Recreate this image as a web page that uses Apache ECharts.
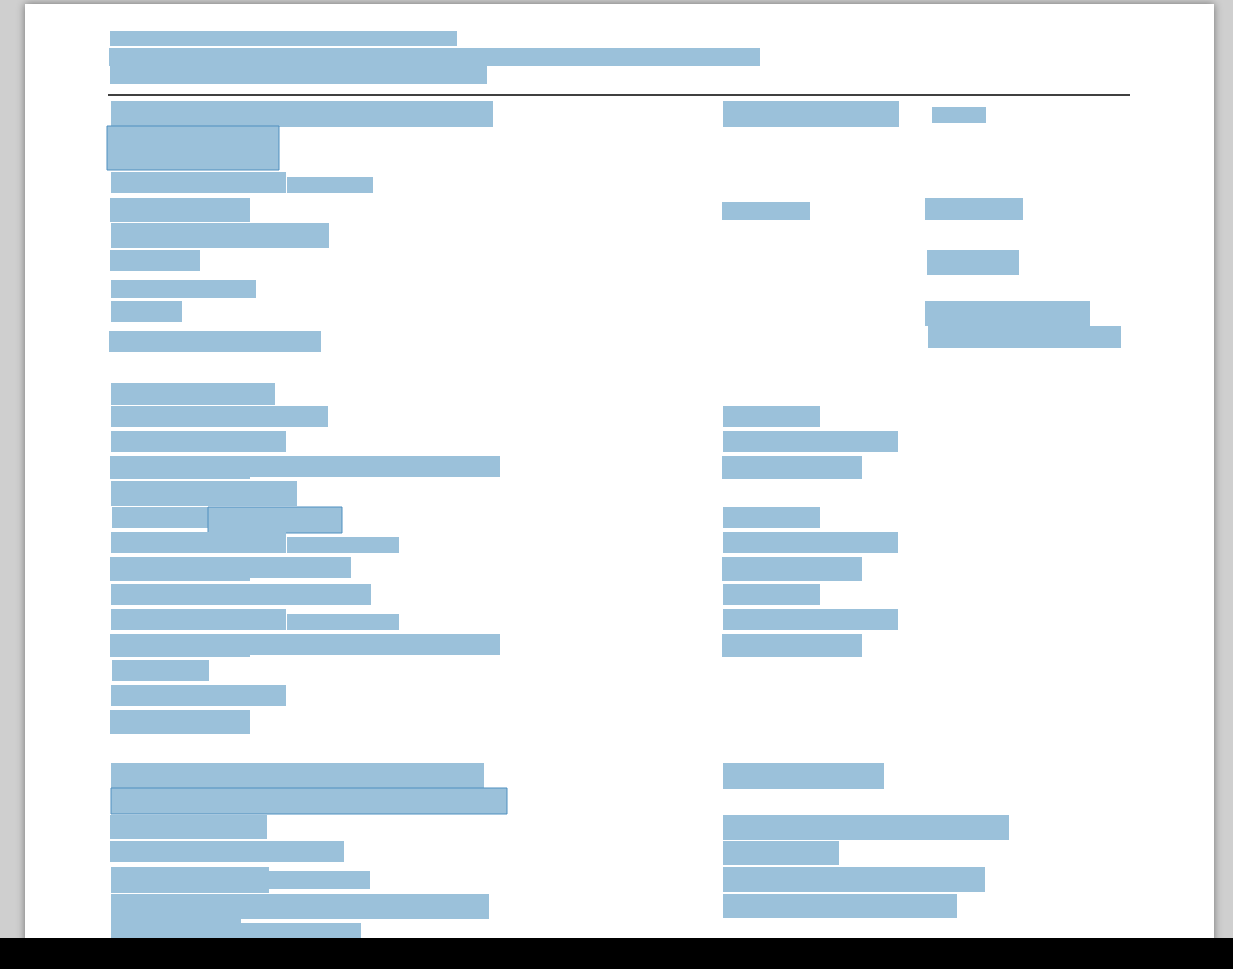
<!DOCTYPE html>
<html><head><meta charset="utf-8">
<script src="https://cdn.jsdelivr.net/npm/echarts@6/dist/echarts.min.js"></script>
<style>html,body{margin:0;padding:0;background:#cfcfcf;}#c{width:1233px;height:969px;}</style>
</head><body><div id="c"></div>
<script>
// Redaction blocks: [x0, y0, x1, y1, bordered]
const headerBlocks = [
  [110,31,457,46,0],[109,48,760,66,0],[110,66,487,84,0]
];
const section1Blocks = [
  [111,101,493,127,0],[723,101,899,127,0],[932,107,986,123,0],
  [107,126,279,170,1],[111,172,286,193,0],[287,177,373,193,0],
  [110,198,250,222,0],[722,202,810,220,0],[925,198,1023,220,0],
  [111,223,329,248,0],[110,250,200,271,0],[927,250,1019,275,0],
  [111,280,256,298,0],[111,301,182,322,0],[925,301,1090,326,0],
  [928,326,1121,348,0],[109,331,321,352,0]
];
const section2Blocks = [
  [111,383,275,405,0],[111,406,328,427,0],[723,406,820,427,0],
  [111,431,286,452,0],[723,431,898,452,0],
  [110,456,250,479,0],[250,456,500,477,0],[722,456,862,479,0],
  [111,481,297,506,0],[112,507,208,528,0],[208,507,342,533,1],[723,507,820,528,0],
  [111,532,286,553,0],[287,537,399,553,0],[723,532,898,553,0],
  [110,557,250,581,0],[250,557,351,578,0],[722,557,862,581,0],
  [111,584,371,605,0],[723,584,820,605,0],
  [111,609,286,630,0],[287,614,399,630,0],[723,609,898,630,0],
  [110,634,250,657,0],[250,634,500,655,0],[722,634,862,657,0],
  [112,660,209,681,0],[111,685,286,706,0],[110,710,250,734,0]
];
const section3Blocks = [
  [111,763,484,789,0],[723,763,884,789,0],[111,788,507,814,1],
  [110,815,267,839,0],[723,815,1009,840,0],
  [110,841,344,862,0],[723,841,839,865,0],
  [111,867,269,893,0],[269,871,370,889,0],[723,867,985,892,0],
  [111,894,489,919,0],[723,894,957,918,0],
  [111,919,241,938,0],[241,923,361,938,0]
];
const allBlocks = headerBlocks.concat(section1Blocks, section2Blocks, section3Blocks);

const chart = echarts.init(document.getElementById('c'));
chart.setOption({
  animation:false,
  grid:{left:0,right:0,top:0,bottom:0},
  xAxis:{type:'value',min:0,max:1233,show:false},
  yAxis:{type:'value',min:0,max:969,inverse:true,show:false},
  graphic:[
    {type:'rect',z:-10,shape:{x:25,y:4,width:1189,height:940},
     style:{fill:'#fff',shadowBlur:8,shadowColor:'rgba(0,0,0,0.45)'}},
    {type:'line',shape:{x1:108,y1:95,x2:1130,y2:95},style:{stroke:'#000',lineWidth:1.5}},
    {type:'rect',z:100,shape:{x:0,y:938,width:1233,height:31},style:{fill:'#000'}}
  ],
  series:[{
    type:'custom',
    data:allBlocks,
    renderItem:function(params, api){
      const p0 = api.coord([api.value(0), api.value(1)]);
      const p1 = api.coord([api.value(2), api.value(3)]);
      const b = api.value(4);
      return {type:'rect',
        shape:{x:p0[0],y:p0[1],width:p1[0]-p0[0],height:p1[1]-p0[1]},
        style:{fill:'#9bc1da',stroke:b?'#4f8fbf':null,lineWidth:b?1:0}};
    }
  }]
});
</script></body></html>
